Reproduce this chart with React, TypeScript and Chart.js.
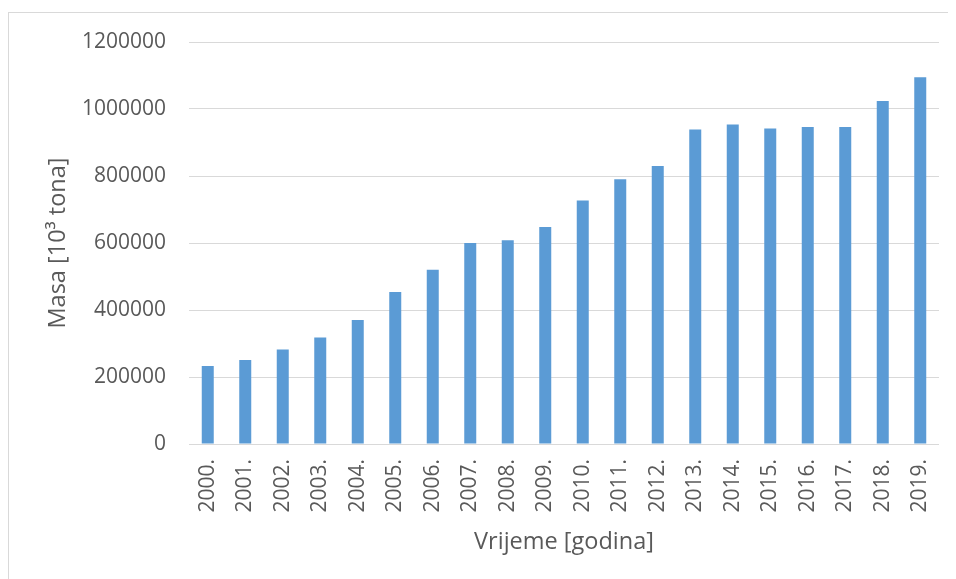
import React, { useEffect, useRef } from "react";
import { Chart, registerables } from "chart.js";

Chart.register(...registerables);

const years = ["2000.", "2001.", "2002.", "2003.", "2004.", "2005.", "2006.", "2007.", "2008.", "2009.", "2010.", "2011.", "2012.", "2013.", "2014.", "2015.", "2016.", "2017.", "2018.", "2019."];
const masa = [233000, 251000, 282000, 318000, 370000, 454000, 520000, 600000, 608000, 648000, 727000, 790000, 830000, 939000, 954000, 942000, 946000, 946000, 1024000, 1095000];
const yTitle = "Masa [10³ tona]";
const xTitle = "Vrijeme [godina]";

const FONT = "'Open Sans', Lato, 'Liberation Sans', sans-serif";
const TEXT = "#595959";
const FS = 21;
const FT = 23.5;
const CW = 947;
const CH = 566;

const zeroPad = (s: any) => {
  s.paddingTop = 0;
  s.paddingBottom = 0;
  s.paddingLeft = 0;
  s.paddingRight = 0;
};

export default function App() {
  const ref = useRef<HTMLCanvasElement>(null);
  useEffect(() => {
    if (!ref.current) return;
    const chart = new Chart(ref.current, {
      type: "bar",
      data: {
        labels: years,
        datasets: [
          {
            data: masa,
            backgroundColor: "#5B9BD5",
            categoryPercentage: 1,
            barPercentage: 0.32,
          },
        ],
      },
      options: {
        animation: false,
        responsive: false,
        maintainAspectRatio: false,
        layout: { padding: { left: 0, right: 17, top: 29, bottom: 0 } },
        plugins: { legend: { display: false }, tooltip: { enabled: false } },
        scales: {
          x: {
            grid: { display: false, drawTicks: false },
            border: { display: false },
            ticks: {
              color: TEXT,
              font: { family: FONT, size: FS },
              minRotation: 90,
              maxRotation: 90,
              padding: 15,
              autoSkip: false,
            },
            title: {
              display: true,
              text: xTitle,
              color: TEXT,
              font: { family: FONT, size: FT, lineHeight: 1.2 },
              padding: { top: 0, bottom: 23 },
            },
            afterFit: (s: any) => {
              s.height = CH - 431;
              zeroPad(s);
            },
          },
          y: {
            min: 0,
            max: 1200000,
            grid: { color: "#d9d9d9", lineWidth: 1, drawTicks: false },
            border: { display: false },
            ticks: {
              stepSize: 200000,
              color: TEXT,
              font: { family: FONT, size: FS },
              padding: 23,
              callback: (v: any) => String(v),
            },
            title: {
              display: true,
              text: yTitle,
              color: TEXT,
              font: { family: FONT, size: FT, lineHeight: 1.2 },
              padding: { top: 35, bottom: 0 },
            },
            afterFit: (s: any) => {
              s.width = 180;
              zeroPad(s);
            },
          },
        },
      },
    });
    return () => chart.destroy();
  }, []);
  return (
    <div
      style={{
        position: "relative",
        top: 4,
        width: 960,
        height: 580,
        boxSizing: "border-box",
        borderTop: "1px solid #d9d9d9",
        borderLeft: "1px solid #d9d9d9",
        background: "#fff",
      }}
    >
      <canvas
        ref={ref}
        width={CW}
        height={CH}
        style={{ position: "absolute", left: 0, top: 0, width: CW, height: CH }}
      />
    </div>
  );
}
